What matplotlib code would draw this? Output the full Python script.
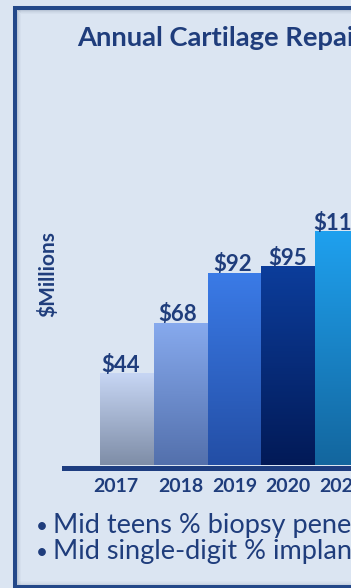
import matplotlib
matplotlib.use("Agg")
import matplotlib.pyplot as plt
import numpy as np
from matplotlib.colors import LinearSegmentedColormap
from matplotlib.patches import Rectangle
from matplotlib.transforms import ScaledTranslation


W, H = 351, 588
DPI = 100

years = ["2017", "2018", "2019", "2020", "2021"]
revenue = [44, 68, 92, 95, 112]
value_labels = ["$44", "$68", "$92", "$95", "$112"]

title = "Annual Cartilage Repair Revenue"
ylabel = "$Millions"
bullets = [
    "Mid teens % biopsy penetration",
    "Mid single-digit % implant penetration",
]

# vertical gradient stops for each bar (top -> bottom)
bar_top_colors = ["#c7d6f4", "#87aaee", "#3b7be7", "#0c3d9b", "#1fa1ef"]
bar_bottom_colors = ["#7e8da7", "#5370ac", "#234ea5", "#021a57", "#13669e"]

NAVY = "#1f3d7c"
FRAME = "#234889"
BG = "#dbe5f2"
SHADOW = "#6f7f99"
FONT = "Lato"

PX_PER_UNIT = 2.09  # vertical scale, px per $M
BAR_PX = 53.7       # width of one category, px
FIRST_CENTER = 127  # px from left


def fx(px):
    return px / W


def fy(px_from_top):
    return 1 - px_from_top / H


def add_rect(fig, x0, top, x1, bottom, **kw):
    fig.patches.append(Rectangle((fx(x0), fy(bottom)), fx(x1 - x0), fy(top) - fy(bottom),
                                 transform=fig.transFigure, **kw))


def main() -> None:
    fig = plt.figure(figsize=(W / DPI, H / DPI), dpi=DPI, facecolor=BG)

    # outer frame with a soft shadow along the inner edges
    add_rect(fig, 15, 8, 600, 586.5, facecolor=BG, edgecolor=FRAME,
             linewidth=2.9, zorder=-2)
    for i, a in enumerate([0.28, 0.18, 0.10, 0.05]):
        add_rect(fig, 17 + i, 10, 18 + i, 584.5, facecolor=SHADOW, alpha=a,
                 linewidth=0, zorder=-1)
        add_rect(fig, 18 + i, 10 + i, 600, 11 + i, facecolor=SHADOW, alpha=a,
                 linewidth=0, zorder=-1)
        add_rect(fig, 18, 584 - i, 600, 585 - i, facecolor=SHADOW, alpha=a * 0.6,
                 linewidth=0, zorder=-1)

    left_px, right_px, bottom_px, top_px = 64, 420, 465, 60
    ax = fig.add_axes([fx(left_px), fy(bottom_px), fx(right_px - left_px),
                       (bottom_px - top_px) / H])
    ax.set_facecolor("none")
    ax.set_xlim(-(FIRST_CENTER - left_px) / BAR_PX, (right_px - FIRST_CENTER) / BAR_PX)
    ax.set_ylim(0, (bottom_px - top_px) / PX_PER_UNIT)

    x = np.arange(len(years))
    bars = ax.bar(x, revenue, width=1.0, color="none", linewidth=0)
    grad = np.linspace(0, 1, 256).reshape(-1, 1)
    for xi, v, bar, c_top, c_bot in zip(x, revenue, bars, bar_top_colors, bar_bottom_colors):
        cmap = LinearSegmentedColormap.from_list("g", [c_bot, c_top])
        im = ax.imshow(grad, cmap=cmap, origin="lower", aspect="auto",
                       extent=[xi - 0.5, xi + 0.5, 0, v], zorder=2)
        im.set_clip_path(bar)

    nudges = [-6, -3, -2, 0, -3]  # px, label drift relative to bar centre
    for xi, v, lab, dx in zip(x, revenue, value_labels, nudges):
        ax.annotate(lab, (xi, v), xytext=(dx * 0.72, 1), textcoords="offset points",
                    ha="center", va="baseline", fontsize=16, fontweight="bold",
                    color=NAVY, family=FONT, annotation_clip=False)

    for side in ["top", "right", "left"]:
        ax.spines[side].set_visible(False)
    ax.spines["bottom"].set_color("#1d3d80")
    ax.spines["bottom"].set_linewidth(3.6)
    ax.spines["bottom"].set_position(("outward", 1.8))
    ax.set_yticks([])
    ax.set_xticks(x, years)
    ax.tick_params(axis="x", length=0, pad=7.5, labelsize=14, labelcolor=NAVY)
    for lab in ax.get_xticklabels():
        lab.set_fontweight("bold")
        lab.set_family(FONT)
    first = ax.get_xticklabels()[0]
    first.set_transform(first.get_transform()
                        + ScaledTranslation(-11 / DPI, 0, fig.dpi_scale_trans))

    fig.text(fx(77), fy(46), title, ha="left", va="baseline", fontsize=19.7,
             fontweight="bold", color=NAVY, family=FONT)
    fig.text(fx(48), fy(274), ylabel, ha="center", va="center", rotation=90,
             fontsize=15, fontweight="bold", color=NAVY, family=FONT)

    for i, line in enumerate(bullets):
        base = 533 + 26 * i
        fig.text(fx(36), fy(base), "\u2022", ha="left", va="baseline",
                 fontsize=15, color=NAVY, family=FONT)
        fig.text(fx(53), fy(base), line, ha="left", va="baseline",
                 fontsize=19.5, color=NAVY, family=FONT)

    fig.savefig("out.png", dpi=DPI, facecolor=BG)
    plt.close(fig)


if __name__ == "__main__":
    main()
